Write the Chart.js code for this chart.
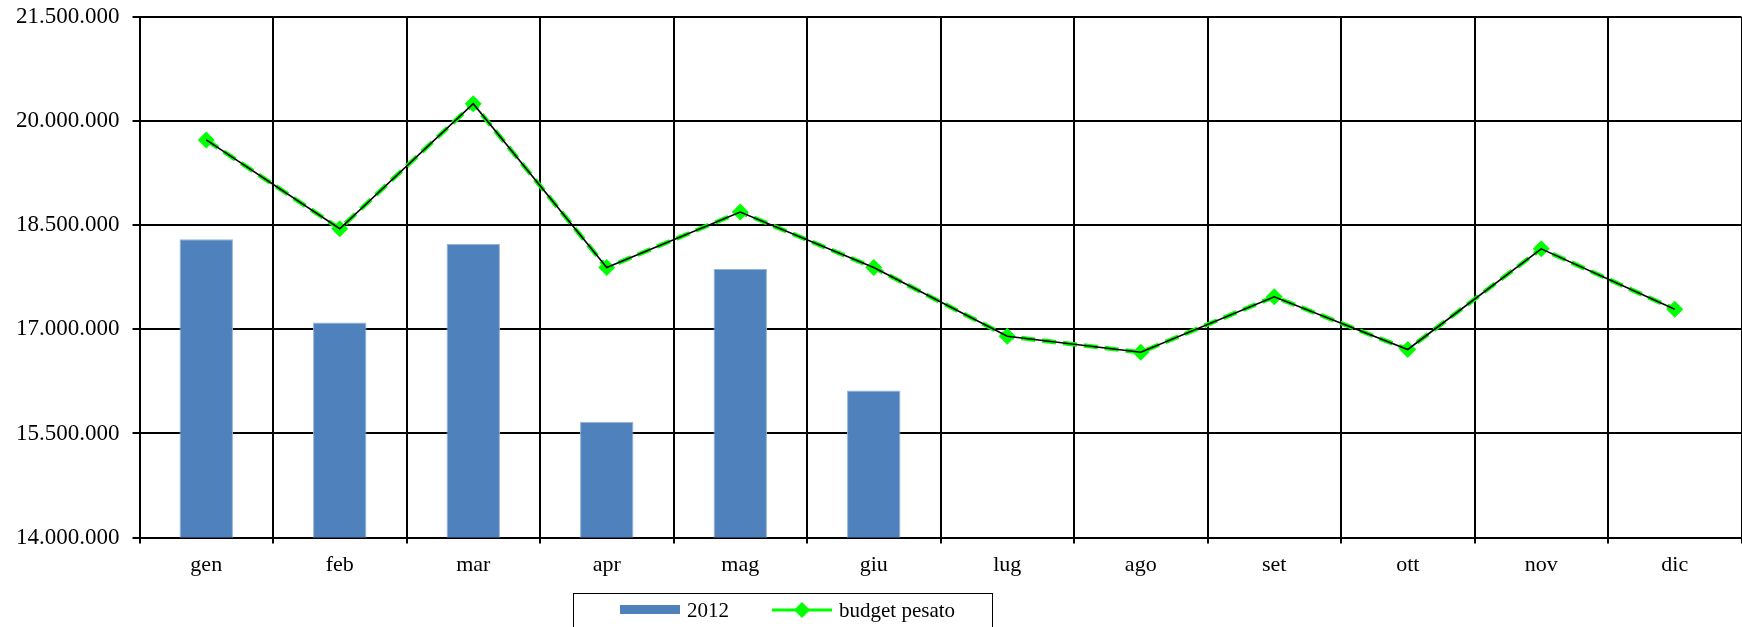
<!DOCTYPE html>
<html>
<head>
<meta charset="utf-8">
<script src="https://cdn.jsdelivr.net/npm/chart.js@4"></script>
<style>
  html, body { margin: 0; padding: 0; background: #fff; overflow: hidden; }
  #wrap { width: 1750px; height: 627px; position: relative; }
</style>
</head>
<body>
<div id="wrap"><canvas id="comboChart"></canvas></div>
<script>
const months = ['gen', 'feb', 'mar', 'apr', 'mag', 'giu', 'lug', 'ago', 'set', 'ott', 'nov', 'dic'];
const actual2012 = [18300000, 17100000, 18230000, 15670000, 17870000, 16120000, null, null, null, null, null, null];
const budgetPesato = [19730000, 18450000, 20250000, 17890000, 18690000, 17890000, 16900000, 16670000, 17470000, 16710000, 18160000, 17290000];
const yMin = 14000000;
const yMax = 21500000;
const yStep = 1500000;

const serif = '"Liberation Serif", "Times New Roman", serif';

const fmt = (v) => String(v).replace(/\B(?=(\d{3})+(?!\d))/g, '.');

// legend drawn by hand: bar swatch + line with diamond, inside a black frame
const boxLegend = {
  id: 'boxLegend',
  afterDraw(chart) {
    const ctx = chart.ctx;
    ctx.save();
    ctx.strokeStyle = '#000';
    ctx.lineWidth = 1;
    ctx.strokeRect(573.5, 593.5, 419, 50);

    ctx.fillStyle = '#4F81BD';
    ctx.fillRect(620, 605, 60, 9);

    ctx.strokeStyle = '#00FF00';
    ctx.lineWidth = 3;
    ctx.beginPath();
    ctx.moveTo(772, 610);
    ctx.lineTo(832, 610);
    ctx.stroke();
    ctx.fillStyle = '#00FF00';
    ctx.beginPath();
    ctx.moveTo(802, 602);
    ctx.lineTo(810, 610);
    ctx.lineTo(802, 618);
    ctx.lineTo(794, 610);
    ctx.closePath();
    ctx.fill();

    ctx.fillStyle = '#000';
    ctx.font = '21px ' + serif;
    ctx.textBaseline = 'middle';
    ctx.fillText(chart.data.datasets[0].label, 687, 611);
    ctx.fillText(chart.data.datasets[1].label, 839, 611);
    ctx.restore();
  }
};

const data = {
  labels: months,
  datasets: [
    {
      type: 'bar',
      label: '2012',
      data: actual2012,
      backgroundColor: '#4F81BD',
      borderColor: '#95B3D7',
      borderWidth: 1,
      barPercentage: 0.4,
      categoryPercentage: 1.0,
      order: 3
    },
    {
      type: 'line',
      label: 'budget pesato',
      data: budgetPesato,
      borderColor: '#00FF00',
      backgroundColor: '#00FF00',
      borderWidth: 4.5,
      borderDash: [14, 7],
      pointStyle: 'rectRot',
      pointRadius: 8.5,
      pointBorderWidth: 0,
      tension: 0,
      order: 2
    },
    {
      type: 'line',
      label: '',
      data: budgetPesato,
      borderColor: '#000',
      borderWidth: 1.6,
      pointRadius: 0,
      tension: 0,
      order: 1
    }
  ]
};

const config = {
  type: 'bar',
  data: data,
  options: {
    responsive: true,
    maintainAspectRatio: false,
    animation: false,
    layout: { padding: { left: 3, top: 0, right: 4, bottom: 41 } },
    plugins: {
      legend: { display: false },
      tooltip: { enabled: false }
    },
    scales: {
      x: {
        grid: { color: '#000', lineWidth: 2, tickLength: 6, offset: true },
        border: { color: '#000', width: 2 },
        ticks: { color: '#000', font: { family: serif, size: 22 }, padding: 8, maxRotation: 0 }
      },
      y: {
        min: yMin,
        max: yMax,
        grid: { color: '#000', lineWidth: 2, tickLength: 7 },
        border: { color: '#000', width: 2 },
        ticks: {
          stepSize: yStep,
          color: '#000',
          font: { family: serif, size: 23, lineHeight: 0.35 },
          padding: 13,
          callback: (v) => fmt(v)
        }
      }
    }
  },
  plugins: [boxLegend]
};

new Chart(document.getElementById('comboChart').getContext('2d'), config);
</script>
</body>
</html>
